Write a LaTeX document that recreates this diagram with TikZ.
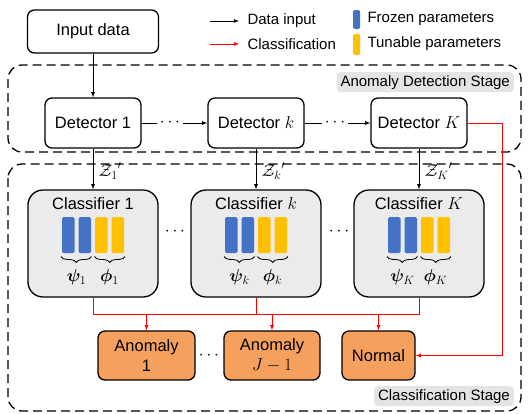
\documentclass[tikz,border=0pt]{standalone}
\usepackage{fontspec}
\setmainfont{Liberation Sans}
\usepackage{bm}
\usetikzlibrary{positioning,arrows,decorations.pathreplacing}
\definecolor{frozen}{HTML}{4472C4}
\definecolor{tunable}{HTML}{FFC000}
\definecolor{outcome}{HTML}{F5A05C}
\definecolor{clsfill}{HTML}{EBEBEB}
\definecolor{tagfill}{HTML}{E4E4E4}

\begin{document}
\begin{tikzpicture}[x=1pt,y=-1pt,node distance=163pt,>=latex,
		big/.style={font=\fontsize{16.5}{20}\selectfont},
		small/.style={font=\fontsize{15}{18}\selectfont},
		box/.style={draw,line width=1.3pt,rounded corners=7pt,big,
			minimum width=96pt,minimum height=50pt},
		classbox/.style={draw,line width=1.3pt,rounded corners=15pt,fill=clsfill,
			minimum width=130pt,minimum height=107pt},
		result/.style={box,fill=outcome,align=center,minimum height=49pt},
		stage/.style={line width=1.3pt,dash pattern=on 9pt off 5pt,rounded corners=14pt},
		tag/.style={small,fill=tagfill,rounded corners=4pt,inner xsep=4pt,
			inner ysep=0pt,minimum height=20pt},
		flow/.style={->,line width=0.8pt},
		decide/.style={line width=0.8pt,red},
		dotsnode/.style={big,inner sep=0pt,minimum width=26pt}
		]
		\useasboundingbox (0,0) rectangle (530,413);
		
		% stage frames
		\draw[stage] (8,65) rectangle (521,152);
		\draw[stage] (8,164) rectangle (521,411);
		\node[tag,anchor=north east] (adtag) at (514,72) {Anomaly Detection Stage};
		\node[tag,anchor=north east] (cltag) at (514,386) {Classification Stage};
		
		% legend
		\node[small,anchor=west] (lgdata) at (244,21) {Data input};
		\node[small,anchor=west] (lgcls) at (244,44) {Classification};
		\coordinate (lgd) at (210,21);
		\coordinate (lgc) at (210,44);
		\draw[flow,shorten >=5pt] (lgd) -- (lgdata);
		\draw[flow,red,shorten >=5pt] (lgc) -- (lgcls);
		\fill[frozen,rounded corners=1.5pt] (353,10) rectangle (360,29);
		\fill[tunable,rounded corners=1.5pt] (353,34) rectangle (360,55);
		\node[small,anchor=west] (lgfrz) at (364,19) {Frozen parameters};
		\node[small,anchor=west] (lgtun) at (364,44) {Tunable parameters};
		
		% input and detectors
		\node[box,minimum width=131pt,minimum height=43pt] (inp) at (93,31.5) {Input data};
		\node[box] (d1) at (93,123) {Detector 1};
		\node[box] (dk) [right of=d1] {Detector $k$};
		\node[box] (dK) [right of=dk] {Detector $K$};
		\node[dotsnode] (dd1) at (170,123) {$\cdots$};
		\node[dotsnode] (dd2) at (335,123) {$\cdots$};
		
		\draw[flow] (inp) -- (d1);
		\draw[line width=0.8pt] (d1) -- (dd1);
		\draw[flow] (dd1) -- (dk);
		\draw[line width=0.8pt] (dk) -- (dd2);
		\draw[flow] (dd2) -- (dK);
		
		% classifiers
		\node[classbox] (c1) at (93,243.5) {};
		\node[classbox] (ck) at (256,243.5) {};
		\node[classbox] (cK) at (419,243.5) {};
		\node[dotsnode] (cd1) at (175,232) {$\cdots$};
		\node[dotsnode] (cd2) at (339,232) {$\cdots$};
		
		\draw[flow] (d1) -- (c1) node[pos=0.55,right=2pt,big] (z1) {${\mathcal{Z}_1}'$};
		\draw[flow] (dk) -- (ck) node[pos=0.55,right=2pt,big] (zk) {${\mathcal{Z}_k}'$};
		\draw[flow] (dK) -- (cK) node[pos=0.55,right=2pt,big] (zK) {${\mathcal{Z}_K}'$};
		
		\foreach \c/\t/\s in {c1/1/1,ck/$k$/k,cK/$K$/K}{
			\node[big,anchor=north,inner sep=0pt] (\c title) at ([yshift=-8pt]\c.north) {Classifier \t};
			\begin{scope}[shift={(\c.center)}]
				\foreach \bx/\col in {-24.75/frozen,-8.25/frozen,8.25/tunable,24.75/tunable}
				\fill[\col,rounded corners=1.5pt] (\bx-6.25,-26.5) rectangle (\bx+6.25,9.5);
				\draw[line width=0.8pt,decorate,decoration={brace,mirror,amplitude=6pt}] (-32,13) -- (-1.5,13);
				\draw[line width=0.8pt,decorate,decoration={brace,mirror,amplitude=6pt}] (1.5,13) -- (32,13);
				\node[big] (\c psi) at (-16.5,34) {$\bm{\psi}_\s$};
				\node[big] (\c phi) at (16.5,34) {$\bm{\phi}_\s$};
			\end{scope}
		}
		
		% outcomes
		\node[result,minimum width=97pt] (a1) at (146.5,355.5) {Anomaly\\1};
		\node[result] (aJ) at (272,355.5) {Anomaly\\$J-1$};
		\node[result,minimum width=73pt] (nrm) at (378.5,355.5) {Normal};
		\node[dotsnode] (ad1) at (209,356) {$\cdots$};
		
		\coordinate (bus) at (0,314);
		\draw[decide] (c1.south) |- (bus -| cK.south) -- (cK.south);
		\draw[decide] (ck.south) -- (ck.south |- bus);
		\draw[decide,->] (a1 |- bus) -- (a1);
		\draw[decide,->] (aJ |- bus) -- (aJ);
		\draw[decide,->] (nrm |- bus) -- (nrm);
		\draw[decide,->] (dK.east) -- ++(35,0) |- (nrm.east);
	\end{tikzpicture}
\end{document}
